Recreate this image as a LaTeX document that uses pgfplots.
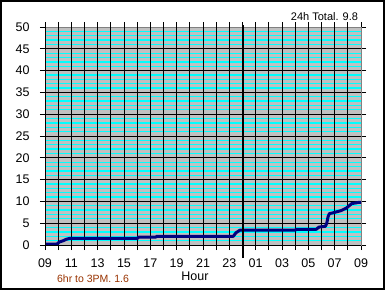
\documentclass[border=0pt]{standalone}
\usepackage{pgfplots}
\pgfplotsset{compat=1.18}
\usepackage{fontspec}
\setmainfont{Liberation Sans}
\definecolor{bgray}{HTML}{C0C0C0}
\definecolor{fgray}{HTML}{808080}
\definecolor{navyline}{HTML}{000080}
\definecolor{brownt}{HTML}{993300}
\definecolor{cyanl}{HTML}{00FFFF}
\begin{document}
\begin{tikzpicture}[x=1pt,y=1pt]
\fill[white] (0,0) rectangle (385,290);
\draw[black, line width=2pt] (1,1) rectangle (384,289);
\begin{axis}[
  at={(45pt,45pt)}, anchor=south west,
  width=316pt, height=218pt, scale only axis,
  xmin=9, xmax=33, ymin=0, ymax=50,
  xtick={9,10,...,33},
  xticklabels={09,,11,,13,,15,,17,,19,,21,,23,,01,,03,,05,,07,,09},
  ytick={0,5,...,50},
  minor y tick num=4,
  tick align=outside,
  major tick length=5pt,
  minor tick length=0pt,
  tick style={black, line width=0.8pt},
  xmajorgrids, ymajorgrids, yminorgrids,
  major grid style={black, line width=1pt},
  minor grid style={cyanl, line width=1.3pt},
  axis background/.style={fill=bgray},
  axis line style={fgray, line width=1pt},
  /pgf/number format/assume math mode=true,
  ticklabel style={font=\fontsize{12.5}{14}\selectfont},
  yticklabel style={xshift=-7pt},
  xticklabel style={yshift=-5pt},
  clip=false,
]
\pgfplotsinvokeforeach{10,...,32}{
  \draw[black, line width=1pt] (axis cs:#1,0) -- (axis cs:#1,50);
}
\pgfplotsinvokeforeach{5,10,...,45}{
  \draw[black, line width=1pt] (axis cs:9,#1) -- (axis cs:33,#1);
}
\addplot[navyline, line width=3pt, line join=round] coordinates {
(9,0.2) (9.9,0.2) (10.1,0.7) (10.4,1.0) (10.6,1.3) (10.85,1.5) (16.0,1.5) (16.1,1.8) (17.4,1.8) (17.5,2.0) (23.3,2.0) (23.5,2.8) (23.8,3.4) (28.0,3.4) (28.1,3.6) (29.6,3.6) (29.8,4.1) (30.3,4.3) (30.4,5.0) (30.5,6.5) (30.6,7.2) (30.9,7.4) (31.5,7.9) (31.9,8.5) (32.3,9.5) (32.9,9.8) (33,9.8)
};
\addplot[black, line width=2pt] coordinates {(24,-3) (24,50.5)};
\draw[black, line width=1pt] (rel axis cs:0,1) -- (rel axis cs:0,0) -- (rel axis cs:1,0);
\end{axis}
\node[font=\fontsize{11}{13}\selectfont] at (324.5,273.3) {24h Total. 9.8};
\node[font=\fontsize{12.5}{14}\selectfont] at (195,14) {Hour};
\node[font=\fontsize{10.5}{12}\selectfont, text=brownt] at (93,11) {6hr to 3PM. 1.6};
\end{tikzpicture}
\end{document}
